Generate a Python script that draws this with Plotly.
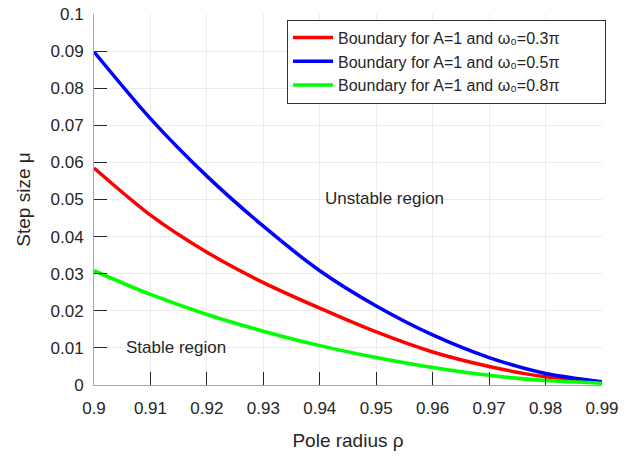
import plotly.graph_objects as go

rho = [0.90, 0.91, 0.92, 0.93, 0.94, 0.95, 0.96, 0.97, 0.98, 0.99]
mu_03 = [0.0585, 0.0458, 0.0358, 0.0276, 0.0207, 0.0143, 0.0089, 0.0050, 0.0022, 0.0008]
mu_05 = [0.0898, 0.0718, 0.0563, 0.0428, 0.0308, 0.0213, 0.0135, 0.0074, 0.0031, 0.0009]
mu_08 = [0.0308, 0.0244, 0.0190, 0.0145, 0.0106, 0.0074, 0.0047, 0.0026, 0.0012, 0.0005]

names = ["Boundary for A=1 and ω₀=0.3π",
         "Boundary for A=1 and ω₀=0.5π",
         "Boundary for A=1 and ω₀=0.8π"]
colors = ["#ff0000", "#0000ff", "#00ff00"]
x_ticks = [0.90, 0.91, 0.92, 0.93, 0.94, 0.95, 0.96, 0.97, 0.98, 0.99]
x_ticklabels = ["0.9", "0.91", "0.92", "0.93", "0.94", "0.95", "0.96", "0.97", "0.98", "0.99"]
y_ticks = [0, 0.01, 0.02, 0.03, 0.04, 0.05, 0.06, 0.07, 0.08, 0.09, 0.1]
y_ticklabels = ["0", "0.01", "0.02", "0.03", "0.04", "0.05", "0.06", "0.07", "0.08", "0.09", "0.1"]

FONT = "Liberation Sans, Arial, sans-serif"
TXT = "#262626"

fig = go.Figure()
for ys, nm, c in zip([mu_03, mu_05, mu_08], names, colors):
    fig.add_trace(go.Scatter(x=rho, y=ys, mode="lines", name=nm,
                             line=dict(color=c, width=3.5, shape="spline", smoothing=0.8)))

fig.add_annotation(x=0.9515, y=0.0504, text="Unstable region", showarrow=False,
                   font=dict(family=FONT, size=17, color=TXT))
fig.add_annotation(x=0.9146, y=0.0100, text="Stable region", showarrow=False,
                   font=dict(family=FONT, size=17, color=TXT))

axis_common = dict(showline=True, linecolor="#a6a6a6", linewidth=1,
                   ticks="inside", ticklen=13, tickcolor=TXT, tickwidth=1,
                   showgrid=True, gridcolor="#ebebeb", gridwidth=1,
                   zeroline=False, mirror=False, automargin=False,
                   tickfont=dict(family=FONT, size=17, color=TXT))

fig.update_xaxes(range=[0.9, 0.99], tickvals=x_ticks, ticktext=x_ticklabels,
                 ticklabelstandoff=8,
                 title=dict(text="Pole radius ρ", font=dict(family=FONT, size=19, color=TXT), standoff=16),
                 **axis_common)
fig.update_yaxes(range=[0, 0.1], tickvals=y_ticks, ticktext=y_ticklabels,
                 ticklabelstandoff=6,
                 title=dict(text="Step size μ", font=dict(family=FONT, size=19, color=TXT), standoff=14),
                 **axis_common)

fig.update_layout(
    width=630, height=457,
    margin=dict(l=94, r=28, t=14, b=72),
    paper_bgcolor="white", plot_bgcolor="white",
    font=dict(family=FONT, size=16, color=TXT),
    legend=dict(x=0.38, y=0.985, xanchor="left", yanchor="top",
                orientation="h", entrywidth=262, entrywidthmode="pixels",
                bgcolor="white", bordercolor="#333333", borderwidth=1,
                font=dict(family=FONT, size=16, color=TXT),
                tracegroupgap=0, itemwidth=40),
    showlegend=True,
)

fig.write_html("out.html")
